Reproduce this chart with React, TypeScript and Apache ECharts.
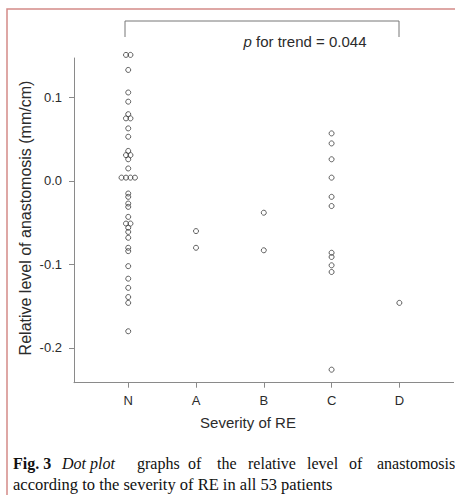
import React, { useEffect, useRef } from "react";
import * as echarts from "echarts";

// ---- Data ----
const categories = ["N", "A", "B", "C", "D"];
const groupN = [
  0.151, 0.151, 0.133, 0.106, 0.095, 0.08, 0.075, 0.075, 0.063, 0.053,
  0.036, 0.031, 0.031, 0.026, 0.015, 0.004, 0.004, 0.004, 0.004,
  -0.015, -0.019, -0.027, -0.031, -0.043, -0.051, -0.051, -0.056, -0.061,
  -0.068, -0.08, -0.084, -0.102, -0.117, -0.128, -0.139, -0.146, -0.18,
];
const groupA = [-0.06, -0.08];
const groupB = [-0.038, -0.083];
const groupC = [0.057, 0.045, 0.026, 0.004, -0.019, -0.03, -0.086, -0.091, -0.101, -0.109, -0.226];
const groupD = [-0.146];
const groups = [groupN, groupA, groupB, groupC, groupD];
const yTicks = [-0.2, -0.1, 0, 0.1];
const xTicks = [0, 1, 2, 3, 4];
const yTitle = "Relative level of anastomosis (mm/cm)";
const xTitle = "Severity of RE";
const trendLabel = "p for trend = 0.044";
const captionLine1 = ["Fig. 3", "Dot plot", "graphs", "of", "the", "relative", "level", "of", "anastomosis"];
const captionLine2 = "according to the severity of RE in all 53 patients";

// horizontal spread for tied values (stripchart "stack" style)
const TIE_STEP = 0.066;

function buildPoints(): number[][] {
  const pts: number[][] = [];
  groups.forEach((vals, gi) => {
    const counts = new Map<number, number>();
    vals.forEach((v) => counts.set(v, (counts.get(v) || 0) + 1));
    const seen = new Map<number, number>();
    vals.forEach((v) => {
      const n = counts.get(v) || 1;
      const k = seen.get(v) || 0;
      seen.set(v, k + 1);
      const off = (k - (n - 1) / 2) * TIE_STEP;
      pts.push([gi + off, v]);
    });
  });
  return pts;
}

const AXIS_COLOR = "#8a8a8a";
const TEXT_COLOR = "#2b2b2b";
const SANS = "Liberation Sans, Arial, sans-serif";
const SERIF = "Liberation Serif, Times New Roman, serif";

export default function App() {
  const ref = useRef<HTMLDivElement>(null);
  useEffect(() => {
    if (!ref.current) return;
    const chart = echarts.init(ref.current, undefined, { renderer: "svg" });
    const captionX = [13, 62, 137, 188, 217, 248, 307, 349, 377];
    const captionGraphics: any[] = captionLine1.map((w, i) => ({
      type: "text",
      x: captionX[i],
      y: 463,
      style: {
        text: w,
        font: (i === 0 ? "bold " : i === 1 ? "italic " : "") + "16px " + SERIF,
        fill: "#111",
        align: "left",
        verticalAlign: "middle",
      },
    }));
    chart.setOption({
      animation: false,
      backgroundColor: "#ffffff",
      grid: {
        left: 74,
        right: 1.4,
        top: 58,
        bottom: 112.3,
        containLabel: false,
        outerBoundsMode: "none",
      },
      xAxis: {
        type: "value",
        min: -0.8,
        max: 4.8,
        splitLine: { show: false },
        axisLine: { show: true, onZero: false, lineStyle: { color: AXIS_COLOR, width: 1 } },
        axisTick: {
          show: true,
          customValues: xTicks,
          length: 5,
          lineStyle: { color: AXIS_COLOR },
        },
        axisLabel: {
          customValues: xTicks,
          formatter: (v: number) => categories[Math.round(v)] ?? "",
          margin: 11,
          color: TEXT_COLOR,
          fontSize: 13,
          fontFamily: SANS,
        },
      },
      yAxis: {
        type: "value",
        min: -0.2416,
        max: 0.1473,
        splitLine: { show: false },
        axisLine: { show: true, onZero: false, lineStyle: { color: AXIS_COLOR, width: 1 } },
        axisTick: {
          show: true,
          customValues: yTicks,
          length: 5,
          lineStyle: { color: AXIS_COLOR },
        },
        axisLabel: {
          customValues: yTicks,
          formatter: (v: number) => v.toFixed(1),
          margin: 12,
          color: TEXT_COLOR,
          fontSize: 13,
          fontFamily: SANS,
        },
      },
      series: [
        {
          type: "scatter",
          data: buildPoints(),
          symbol: "circle",
          symbolSize: 5,
          clip: false,
          itemStyle: {
            color: "rgba(0,0,0,0)",
            borderColor: "#3a3a3a",
            borderWidth: 1,
          },
          silent: true,
        },
      ],
      graphic: [
        {
          type: "rect",
          shape: { x: 7, y: 9, width: 470, height: 520 },
          style: { fill: "none", stroke: "#d48a88", lineWidth: 1.5 },
          silent: true,
        },
        {
          type: "polyline",
          shape: { points: [[125, 37], [125, 21], [399, 21], [399, 37]] },
          style: { fill: "none", stroke: "#777", lineWidth: 1 },
        },
        {
          type: "text",
          x: 305,
          y: 41,
          style: {
            text: "{i|p}" + trendLabel.slice(1),
            font: "15px " + SANS,
            fill: TEXT_COLOR,
            align: "center",
            verticalAlign: "middle",
            rich: { i: { fontStyle: "italic", fontSize: 15, fontFamily: SANS, fill: TEXT_COLOR } },
          },
        },
        {
          type: "text",
          x: 25,
          y: 218,
          rotation: Math.PI / 2,
          style: {
            text: yTitle,
            font: "16px " + SANS,
            fill: TEXT_COLOR,
            align: "center",
            verticalAlign: "middle",
          },
        },
        {
          type: "text",
          x: 248,
          y: 422,
          style: {
            text: xTitle,
            font: "15px " + SANS,
            fill: TEXT_COLOR,
            align: "center",
            verticalAlign: "middle",
          },
        },
        ...captionGraphics,
        {
          type: "text",
          x: 13,
          y: 484,
          style: {
            text: captionLine2,
            font: "16.5px " + SERIF,
            fill: "#111",
            align: "left",
            verticalAlign: "middle",
          },
        },
      ],
    });
    return () => chart.dispose();
  }, []);
  return (
    <div
      ref={ref}
      style={{ position: "fixed", left: 0, top: 0, width: 455, height: 495, background: "#fff" }}
    />
  );
}
